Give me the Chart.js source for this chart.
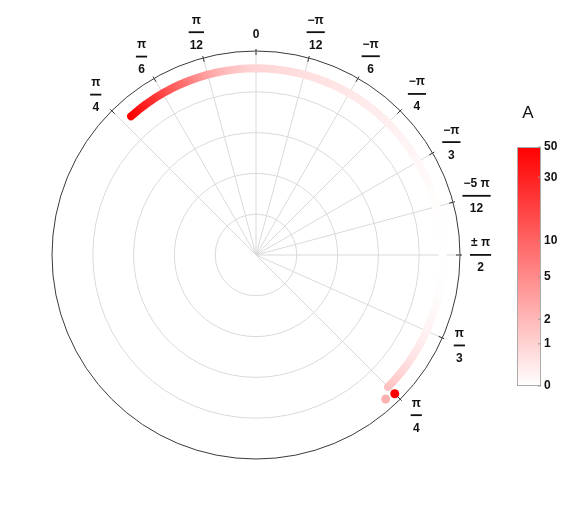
<!DOCTYPE html>
<html>
<head>
<meta charset="utf-8">
<script src="https://cdn.jsdelivr.net/npm/chart.js@4.4.1/dist/chart.umd.min.js"></script>
<style>
  html, body { margin: 0; padding: 0; background: #fff; }
  canvas { display: block; }
</style>
</head>
<body>
<canvas id="polarChart" width="581" height="512"></canvas>
<script>
// angle ticks, in degrees clockwise from the top, and their fraction labels
const tickAngles = [-45, -30, -15, 0, 15, 30, 45, 60, 75, 90, 114, 135];
const tickTop = ['π', 'π', 'π', '0', '−π', '−π', '−π', '−π', '−5 π', '± π', 'π', 'π'];
const tickBottom = ['4', '6', '12', '', '12', '6', '4', '3', '12', '2', '3', '4'];

// the curve: angle (deg) and colour value A, at a fixed radius
const arcAngles = [-42, -39, -36, -33, -30, -27, -24, -21, -18, -15, -12, -9, -6, -3,
    0, 3, 6, 9, 12, 15, 18, 21, 24, 27, 30, 33, 36, 39, 42, 45, 48, 51, 54, 57,
    60, 63, 66, 69, 72, 75, 78, 81, 84, 87, 90, 93, 96, 99, 102, 105, 108, 111,
    114, 117, 120, 123, 126, 129, 132, 135];
const arcValues = [50, 38, 29, 22, 16, 12, 9, 6.5, 4.5, 3.2, 2.4, 1.8, 1.4, 1.1,
    0.9, 0.85, 0.8, 0.75, 0.7, 0.65, 0.6, 0.56, 0.52, 0.48, 0.44, 0.4, 0.37, 0.34, 0.31, 0.28,
    0.25, 0.22, 0.19, 0.16, 0.13, 0.11, 0.09, 0.07, 0.05, 0.04, 0.03, 0.02, 0.01, 0.01,
    0, 0.01, 0.02, 0.03, 0.05, 0.08, 0.12, 0.17, 0.23, 0.3, 0.4, 0.52, 0.68, 0.9, 1.2, 1.6];
const arcRadius = 0.915;

// loose points at the end of the curve
const endAngles = [138, 135];
const endRadii = [0.95, 0.962];
const endValues = [2.5, 50];

// colour bar
const barTicks = [0, 1, 2, 5, 10, 30, 50];
const barMax = 50;

const STEP = 3;          // degrees per category
const START = -45;       // angle of category 0
const COUNT = 360 / STEP;
const idx = a => Math.round((a - START) / STEP);

function colorFor(a) {
    const p = Math.min(1, Math.log(1 + a) / Math.log(1 + barMax));
    const g = Math.round(255 * (1 - p));
    return 'rgb(255,' + g + ',' + g + ')';
}

const labels = Array.from({length: COUNT}, (_, i) => String(START + STEP * i));
const arcData = new Array(COUNT).fill(null);
arcAngles.forEach(a => { arcData[idx(a)] = arcRadius; });
const endData = new Array(COUNT).fill(null);
const endColors = new Array(COUNT).fill('transparent');
endAngles.forEach((a, k) => {
    endData[idx(a)] = endRadii[k];
    endColors[idx(a)] = k === 0 ? 'rgba(255,150,150,0.75)' : colorFor(endValues[k]);
});
const tickIndex = tickAngles.map(idx);

// colour along the curve follows the angle, so a conic gradient round the centre
function arcGradient(c) {
    const chart = c.chart;
    const r = chart.scales.r;
    if (!r || !r.drawingArea) return colorFor(1);
    const g = chart.ctx.createConicGradient((START - 90) * Math.PI / 180, r.xCenter, r.yCenter);
    arcAngles.forEach((a, k) => g.addColorStop((a - START) / 360, colorFor(arcValues[k])));
    return g;
}

const labelFont = 'bold 12px "Liberation Sans", Arial, sans-serif';

const decorations = {
    id: 'decorations',
    afterDatasetsDraw(chart) {
        const ctx = chart.ctx;
        const r = chart.scales.r;
        const R = r.drawingArea;
        ctx.save();

        // small ticks on the outer circle
        ctx.strokeStyle = '#333';
        ctx.lineWidth = 1;
        tickIndex.forEach(i => {
            const p0 = r.getPointPosition(i, R - 4);
            const p1 = r.getPointPosition(i, R + 2);
            ctx.beginPath();
            ctx.moveTo(p0.x, p0.y);
            ctx.lineTo(p1.x, p1.y);
            ctx.stroke();
        });

        // fraction labels
        ctx.font = labelFont;
        ctx.fillStyle = '#111';
        ctx.textAlign = 'center';
        ctx.textBaseline = 'middle';
        tickIndex.forEach((i, k) => {
            const top = tickTop[k], bottom = tickBottom[k];
            const th = tickAngles[k] * Math.PI / 180;
            let hw, hh, w = 0;
            if (bottom) {
                w = Math.max(ctx.measureText(top).width, ctx.measureText(bottom).width) + 2;
                hw = w / 2; hh = 17;
            } else {
                hw = 4; hh = 6;
            }
            const d = R + 10 + Math.hypot(hh * Math.cos(th), hw * Math.sin(th));
            const p = r.getPointPosition(i, d);
            if (bottom) {
                ctx.fillText(top, p.x, p.y - 12);
                ctx.fillText(bottom, p.x, p.y + 13);
                ctx.fillRect(p.x - w / 2, p.y - 1, w, 1.8);
            } else {
                ctx.fillText(top, p.x, p.y);
            }
        });

        // colour bar
        const bx = 517, by = 147, bw = 24, bh = 239;
        const grad = ctx.createLinearGradient(0, by + bh, 0, by);
        grad.addColorStop(0, 'rgb(255,255,255)');
        grad.addColorStop(1, 'rgb(255,0,0)');
        ctx.fillStyle = grad;
        ctx.fillRect(bx, by, bw, bh);
        ctx.strokeStyle = '#aaa';
        ctx.lineWidth = 1;
        ctx.strokeRect(bx + 0.5, by + 0.5, bw - 1, bh - 1);

        ctx.textAlign = 'left';
        barTicks.forEach(v => {
            const y = by + bh - bh * Math.log(1 + v) / Math.log(1 + barMax);
            ctx.strokeStyle = '#999';
            ctx.beginPath();
            ctx.moveTo(bx + bw - 3, y);
            ctx.lineTo(bx + bw, y);
            ctx.stroke();
            ctx.fillStyle = '#111';
            ctx.fillText(String(v), bx + bw + 3, y);
        });

        ctx.font = '17px "Liberation Sans", Arial, sans-serif';
        ctx.textAlign = 'center';
        ctx.fillText('A', 528, 113);
        ctx.restore();
    }
};

const polarCtx = document.getElementById('polarChart').getContext('2d');
const polarChart = new Chart(polarCtx, {
    type: 'radar',
    data: {
        labels: labels,
        datasets: [{
            label: 'end',
            data: endData,
            showLine: false,
            fill: false,
            pointRadius: 4.5,
            pointBorderWidth: 0,
            pointBackgroundColor: endColors,
            pointBorderColor: 'transparent'
        }, {
            label: 'A',
            data: arcData,
            fill: false,
            tension: 0,
            spanGaps: false,
            borderWidth: 8,
            borderCapStyle: 'round',
            borderJoinStyle: 'round',
            pointRadius: 0,
            borderColor: arcGradient
        }]
    },
    options: {
        responsive: false,
        animation: false,
        layout: {
            padding: {left: 52, right: 121, top: 51, bottom: 53}
        },
        scales: {
            r: {
                min: 0,
                max: 1,
                startAngle: START,
                ticks: {display: false, stepSize: 0.2},
                pointLabels: {display: false},
                grid: {
                    circular: true,
                    lineWidth: 1,
                    color: c => c.tick && c.tick.value > 0.99 ? '#3a3a3a' : '#dadada'
                },
                angleLines: {
                    color: '#dadada',
                    lineWidth: c => tickIndex.includes(c.index) ? 1 : 0
                }
            }
        },
        plugins: {
            legend: {display: false},
            tooltip: {enabled: false}
        }
    },
    plugins: [decorations]
});
</script>
</body>
</html>
